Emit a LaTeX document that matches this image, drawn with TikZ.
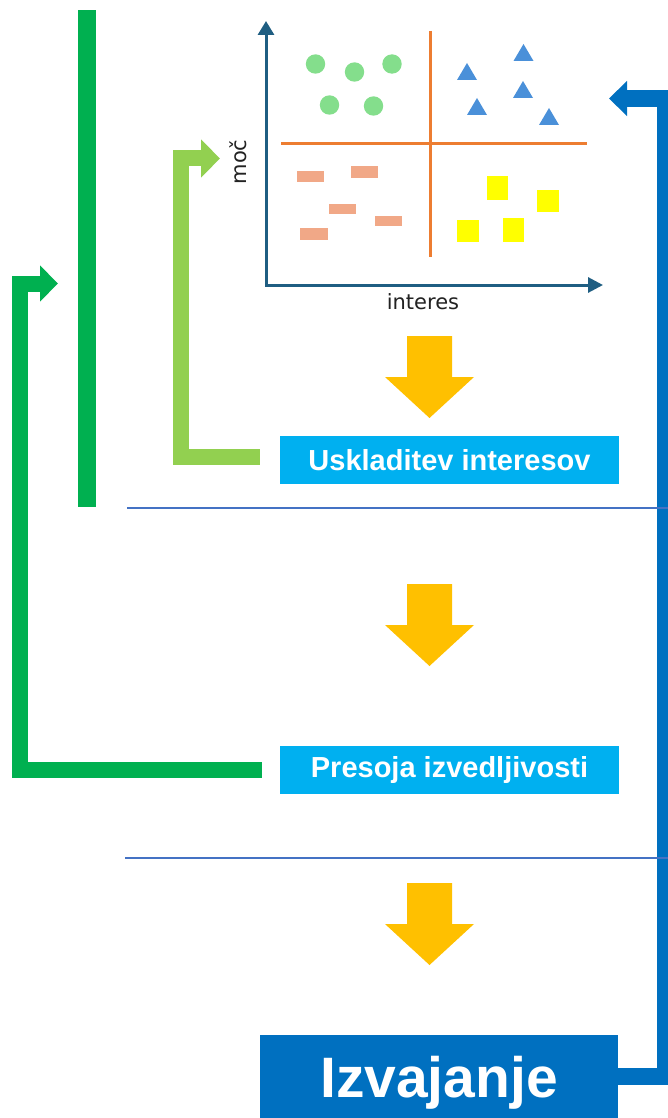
\documentclass[tikz,border=0pt]{standalone}
\usepackage{fontspec}
\setmainfont{Liberation Sans}
\newfontfamily\dvsans{DejaVu Sans}
\usetikzlibrary{arrows.meta}
\definecolor{dgreen}{RGB}{0,176,80}
\definecolor{lgreen}{RGB}{146,208,80}
\definecolor{mblue}{RGB}{0,112,192}
\definecolor{cyanbox}{RGB}{0,176,240}
\definecolor{gold}{RGB}{255,192,0}
\definecolor{sepblue}{RGB}{68,114,196}
\definecolor{axisc}{RGB}{31,94,130}
\definecolor{quadline}{RGB}{237,125,49}
\definecolor{dotgreen}{RGB}{132,222,140}
\definecolor{triblue}{RGB}{74,144,217}
\definecolor{salmon}{RGB}{241,168,135}
\definecolor{sqyellow}{RGB}{255,255,0}
\definecolor{labelc}{RGB}{34,34,34}
\tikzset{
  stagebox/.style={fill=cyanbox, text=white, font=\bfseries\fontsize{29}{34}\selectfont,
    minimum width=339pt, minimum height=48pt, inner sep=0pt},
  finalbox/.style={fill=mblue, text=white, font=\bfseries\fontsize{57}{64}\selectfont,
    minimum width=358pt, minimum height=96pt, inner sep=0pt},
  loopdark/.style={draw=dgreen, line width=16pt, line join=miter, -{Triangle[width=35pt,length=18pt]}},
  looplight/.style={draw=lgreen, line width=16pt, line join=miter, -{Triangle[width=37pt,length=19pt]}},
  loopblue/.style={draw=mblue, line width=17pt, line join=miter, -{Triangle[width=34pt,length=18pt]}},
  sepline/.style={draw=sepblue, line width=1.4pt},
  axisline/.style={draw=axisc, line width=3pt, line join=miter},
  quad/.style={draw=quadline, line width=3pt},
  dot/.style={fill=dotgreen},
  tri/.style={fill=triblue},
  bar/.style={fill=salmon},
  sq/.style={fill=sqyellow},
  axlabel/.style={text=labelc, font=\dvsans\fontsize{21}{24}\selectfont, inner sep=0pt},
  downarr/.pic={\fill[gold] (-22.5,0) -- (22.5,0) -- (22.5,41) -- (44.5,41) -- (0,82) -- (-44.5,41) -- (-22.5,41) -- cycle;}
}
\begin{document}
\begin{tikzpicture}[x=1pt,y=-1pt]
\path[use as bounding box, fill=white] (0,0) rectangle (668,1118);

% dark green vertical bar
\fill[dgreen] (78,10) rectangle (96,507);

% chart
\draw[axisline, {Triangle[width=16pt,length=14pt]}-{Triangle[width=15pt,length=15pt]}] (266,21) -- (266,285) -- (603,285);
\draw[quad] (430,31) -- (430,257);
\draw[quad] (281,144) -- (587,144);
\node[axlabel, rotate=90] (moc) at (238,162) {moč};
\node[axlabel] (interes) at (423,302) {interes};
% circles
\foreach \p in {(315.5,64),(354.5,72),(392,64),(329.5,105),(373.5,106)}
  \fill[dot] \p circle [radius=9.7];
% triangles
\foreach \cx/\ty in {467/63, 523.5/44, 523/81, 477/98, 549/108}
  \fill[tri] (\cx,\ty) -- ++(10,17) -- ++(-20,0) -- cycle;
% salmon bars
\fill[bar] (297,171) rectangle (324,182);
\fill[bar] (351,166) rectangle (378,178);
\fill[bar] (329,204) rectangle (356,214);
\fill[bar] (375,216) rectangle (402,226);
\fill[bar] (300,228) rectangle (328,240);
% yellow squares
\fill[sq] (487,176) rectangle (508,200);
\fill[sq] (537,190) rectangle (559,212);
\fill[sq] (457,220) rectangle (479,242);
\fill[sq] (503,218) rectangle (524,242);

% stage boxes
\node[stagebox] (usk) at (449.5,460) {Uskladitev interesov};
\node[stagebox] (pres) at (449.5,770) {Presoja izvedljivosti};
\node[finalbox] (izv) at (439,1083) {Izvajanje};

% down arrows
\pic at (429.5,336) {downarr};
\pic at (429.5,584) {downarr};
\pic at (429.5,883) {downarr};

% target coordinates
\coordinate (chartL) at (220,158.5);
\coordinate (leftT) at (58,283.5);
\coordinate (chartR) at (609,98.5);

% loop connectors
\draw[looplight] ([xshift=-20pt,yshift=3pt]usk.west) -| (180.5,158.5) -- (chartL);
\draw[loopdark] ([xshift=-18pt]pres.west) -| (20,283.5) -- (leftT);
\draw[loopblue] ([yshift=6.5pt]izv.east) -| (665.5,98.5) -- (chartR);

% separators
\draw[sepline] (127,508) -- (668,508);
\draw[sepline] (125,858) -- (668,858);
\end{tikzpicture}
\end{document}
